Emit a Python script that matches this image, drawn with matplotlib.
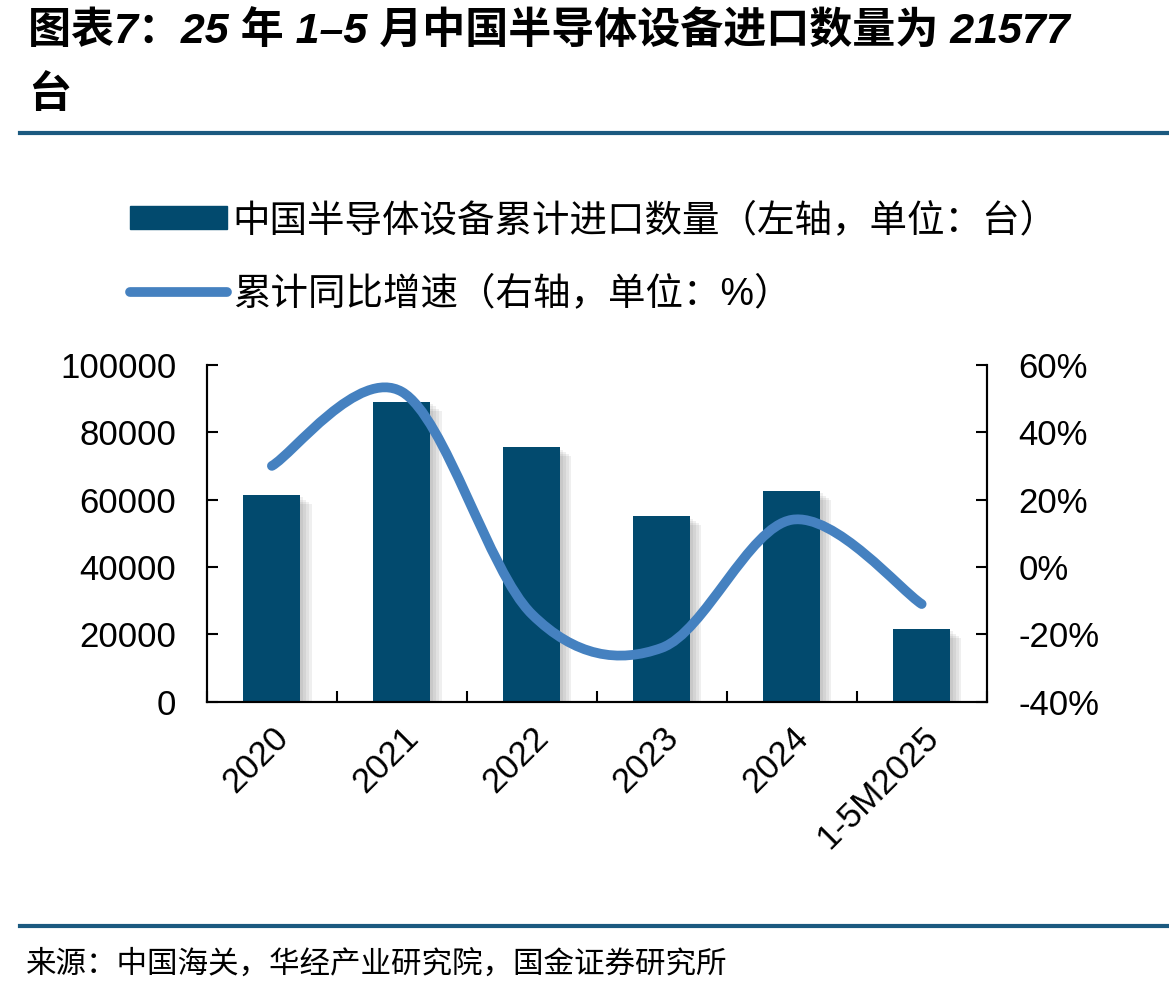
import matplotlib
matplotlib.use("Agg")
import matplotlib.pyplot as plt
import matplotlib.patheffects as pe
from matplotlib.patches import Patch, PathPatch
from matplotlib.lines import Line2D
from matplotlib.path import Path
import numpy as np

plt.rcParams["font.family"] = ["Liberation Sans", "Noto Sans CJK SC"]

categories = ["2020", "2021", "2022", "2023", "2024", "1-5M2025"]
import_qty = [61300, 89000, 75500, 55000, 62500, 21577]
yoy_growth = [30.0, 52.0, -14.0, -24.0, 14.0, -11.0]

left_ticks = [0, 20000, 40000, 60000, 80000, 100000]
right_ticks = [-40, -20, 0, 20, 40, 60]
right_labels = ["-40%", "-20%", "0%", "20%", "40%", "60%"]

title_line1 = "图表7：25 年 1–5 月中国半导体设备进口数量为 21577"
title_line2 = "台"
bar_label = "中国半导体设备累计进口数量（左轴，单位：台）"
line_label = "累计同比增速（右轴，单位：%）"
source = "来源：中国海关，华经产业研究院，国金证券研究所"

BAR_COLOR = "#024A6E"
LINE_COLOR = "#4581C0"
RULE_COLOR = "#1B5A80"


def smooth_path(xs, ys):
    # Catmull-Rom style bezier, like Excel's smoothed line
    pts = np.column_stack([xs, ys]).astype(float)
    ext = np.vstack([pts[0], pts, pts[-1]])
    verts = [pts[0]]
    codes = [Path.MOVETO]
    for i in range(len(pts) - 1):
        p0, p1, p2, p3 = ext[i], ext[i + 1], ext[i + 2], ext[i + 3]
        c1 = p1 + (p2 - p0) / 6.0
        c2 = p2 - (p3 - p1) / 6.0
        verts += [c1, c2, p2]
        codes += [Path.CURVE4] * 3
    return Path(verts, codes)


fig = plt.figure(figsize=(11.69, 9.94), dpi=100)
ax = fig.add_axes([0.177, 0.294, 0.667, 0.339])
ax2 = ax.twinx()

x = np.arange(len(categories))
bars = ax.bar(x, import_qty, width=0.44, color=BAR_COLOR, zorder=2)
# soft drop shadow: a few faint offset layers
shadow = [pe.SimplePatchShadow(offset=(d, -d * 0.8), shadow_rgbFace="#555555", alpha=0.09)
          for d in (2, 4, 6, 8)]
for b in bars:
    b.set_path_effects(shadow + [pe.Normal()])

ax.set_xlim(-0.5, len(categories) - 0.5)
ax.set_ylim(0, 100000)
ax.set_yticks(left_ticks)
ax.set_yticklabels([str(v) for v in left_ticks])

ax.set_xticks(np.arange(len(categories) + 1) - 0.5)
ax.set_xticklabels([])
ax.set_xticks(x, minor=True)
ax.set_xticklabels(categories, minor=True, rotation=45, ha="right",
                   rotation_mode="anchor", fontsize=25)
ax.tick_params(axis="x", which="major", direction="in", length=8, width=1.5)
ax.tick_params(axis="x", which="minor", length=0, pad=14)
ax.tick_params(axis="y", direction="in", length=8, width=1.5, labelsize=25, pad=22)

ax2.set_ylim(-40, 60)
ax2.set_yticks(right_ticks)
ax2.set_yticklabels(right_labels)
ax2.tick_params(axis="y", direction="in", length=8, width=1.5, labelsize=25, pad=23)

for a in (ax, ax2):
    a.spines["top"].set_visible(False)
    for s in ("left", "right", "bottom"):
        a.spines[s].set_linewidth(1.5)

curve = PathPatch(smooth_path(x, yoy_growth), facecolor="none", edgecolor=LINE_COLOR,
                  lw=7, capstyle="round", zorder=3)
ax2.add_patch(curve)

handles = [Patch(facecolor=BAR_COLOR, edgecolor=BAR_COLOR),
           Line2D([0], [0], color=LINE_COLOR, lw=7, solid_capstyle="round")]
fig.legend(handles, [bar_label, line_label], loc="upper left",
           bbox_to_anchor=(0.082, 0.83), frameon=False, fontsize=27,
           handlelength=2.6, handleheight=0.55, handletextpad=0.15, labelspacing=1.0)

fig.text(0.024, 0.968, title_line1, fontsize=31, fontweight="bold", style="italic",
         va="center", ha="left")
fig.text(0.024, 0.904, title_line2, fontsize=31, fontweight="bold", style="italic",
         va="center", ha="left")
fig.add_artist(Line2D([0.017, 1.0], [0.866, 0.866], color=RULE_COLOR, lw=3,
                      transform=fig.transFigure))
fig.add_artist(Line2D([0.017, 1.0], [0.068, 0.068], color=RULE_COLOR, lw=3,
                      transform=fig.transFigure))
fig.text(0.022, 0.029, source, fontsize=22, va="center", ha="left")

fig.savefig("out.png", dpi=100)
